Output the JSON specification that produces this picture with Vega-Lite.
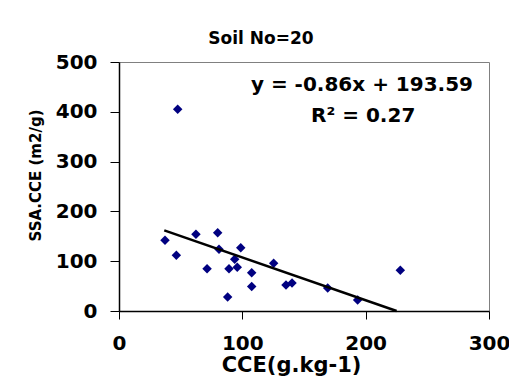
{
  "$schema": "https://vega.github.io/schema/vega-lite/v6.json",
  "width": 370,
  "height": 249,
  "autosize": "none",
  "padding": {"left": 119, "top": 62, "right": 20, "bottom": 74},
  "background": "white",
  "config": {
    "font": "DejaVu Sans",
    "view": {"stroke": "#808080", "strokeWidth": 1},
    "axis": {"grid": false, "labelColor": "black", "titleColor": "black", "tickColor": "black", "domainColor": "black", "labelFlush": false, "labelOverlap": false}
  },
  "title": {"text": "Soil No=20", "fontSize": 17, "fontWeight": "bold", "font": "DejaVu Sans", "anchor": "middle", "frame": "group", "dx": -43, "baseline": "alphabetic", "offset": -9, "color": "black"},
  "layer": [
    {
      "data": {"values": [
        {"CCE": 47.6, "SSA": 405},
        {"CCE": 37.3, "SSA": 142},
        {"CCE": 46.5, "SSA": 112},
        {"CCE": 62.4, "SSA": 154},
        {"CCE": 80.0, "SSA": 157},
        {"CCE": 81.1, "SSA": 124},
        {"CCE": 71.4, "SSA": 85},
        {"CCE": 88.1, "SSA": 28},
        {"CCE": 89.2, "SSA": 85},
        {"CCE": 95.9, "SSA": 88},
        {"CCE": 93.8, "SSA": 104},
        {"CCE": 98.7, "SSA": 127},
        {"CCE": 107.6, "SSA": 77},
        {"CCE": 107.6, "SSA": 49},
        {"CCE": 125.4, "SSA": 96},
        {"CCE": 135.4, "SSA": 52},
        {"CCE": 140.3, "SSA": 56},
        {"CCE": 169.2, "SSA": 46},
        {"CCE": 193.5, "SSA": 22},
        {"CCE": 228.1, "SSA": 82}
      ]},
      "mark": {"type": "point", "shape": "diamond", "filled": true, "color": "#000080", "size": 90, "opacity": 1},
      "encoding": {
        "x": {"field": "CCE", "type": "quantitative",
          "scale": {"domain": [0, 300], "nice": false},
          "axis": {"values": [0, 100, 200, 300], "tickSize": 8, "domainWidth": 1.5, "labelFontSize": 20, "labelFontWeight": "bold", "labelPadding": 14, "title": "CCE(g.kg-1)", "titleFontSize": 21, "titleFontWeight": "bold", "titleX": 172, "titleY": 43}},
        "y": {"field": "SSA", "type": "quantitative",
          "scale": {"domain": [0, 500], "nice": false},
          "axis": {"values": [0, 100, 200, 300, 400, 500], "tickSize": 9, "domainWidth": 1.5, "labelFontSize": 20, "labelFontWeight": "bold", "labelPadding": 13, "title": "SSA.CCE (m2/g)", "titleFontSize": 15, "titleFontWeight": "bold", "titleX": -76, "titleY": 113}}
      }
    },
    {
      "data": {"values": [
        {"CCE": 36.7, "SSA": 162.0},
        {"CCE": 225.1, "SSA": 0}
      ]},
      "mark": {"type": "line", "color": "black", "strokeWidth": 2.5},
      "encoding": {
        "x": {"field": "CCE", "type": "quantitative"},
        "y": {"field": "SSA", "type": "quantitative"}
      }
    },
    {
      "data": {"values": [
        {"CCE": 197, "SSA": 442, "label": "y = -0.86x + 193.59"},
        {"CCE": 198, "SSA": 380, "label": "R² = 0.27"}
      ]},
      "mark": {"type": "text", "font": "DejaVu Sans", "fontSize": 20, "fontWeight": "bold", "align": "center", "baseline": "alphabetic", "color": "black"},
      "encoding": {
        "x": {"field": "CCE", "type": "quantitative"},
        "y": {"field": "SSA", "type": "quantitative"},
        "text": {"field": "label"}
      }
    }
  ]
}
